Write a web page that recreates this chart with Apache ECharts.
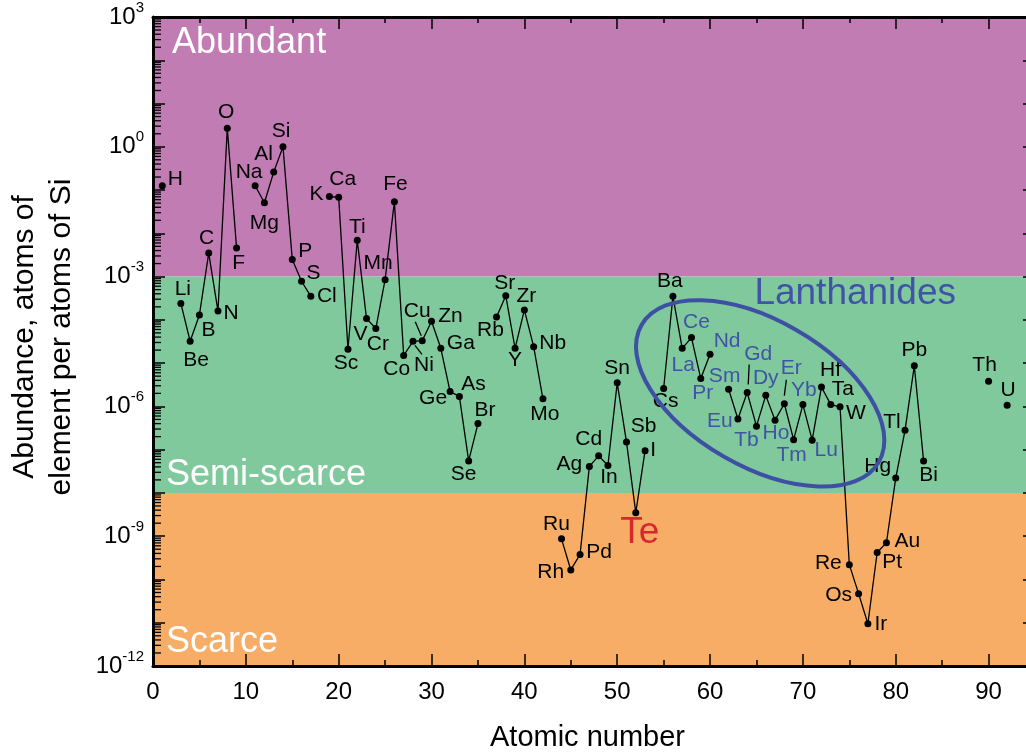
<!DOCTYPE html>
<html>
<head>
<meta charset="utf-8">
<script src="https://cdn.jsdelivr.net/npm/echarts@6/dist/echarts.min.js"></script>
<style>html,body{margin:0;padding:0;background:#fff}#c{width:1026px;height:755px}</style>
</head>
<body>
<div id="c"></div>
<script>
// ---------- data ----------
const symbols = ['H','Li','Be','B','C','N','O','F','Na','Mg','Al','Si','P','S','Cl','K','Ca','Sc','Ti','V','Cr','Mn','Fe','Co','Ni','Cu','Zn','Ga','Ge','As','Se','Br','Rb','Sr','Y','Zr','Nb','Mo','Ru','Rh','Pd','Ag','Cd','In','Sn','Sb','Te','I','Cs','Ba','La','Ce','Pr','Nd','Sm','Eu','Gd','Tb','Dy','Ho','Er','Tm','Yb','Lu','Hf','Ta','W','Re','Os','Ir','Pt','Au','Hg','Tl','Pb','Bi','Th','U'];
const atomicNumbers = [1,3,4,5,6,7,8,9,11,12,13,14,15,16,17,19,20,21,22,23,24,25,26,27,28,29,30,31,32,33,34,35,37,38,39,40,41,42,44,45,46,47,48,49,50,51,52,53,55,56,57,58,59,60,62,63,64,65,66,67,68,69,70,71,72,73,74,75,76,77,78,79,80,81,82,83,90,92];
// abundance, atoms of element per atom of Si
const abundance = [
  1.26e-1, 2.4e-4, 3.2e-5, 1.3e-4, 3.5e-3, 1.6e-4, 2.7, 4.6e-3,
  1.26e-1, 5.1e-2, 2.6e-1, 1.0, 2.5e-3, 7.8e-4, 3.5e-4,
  7.1e-2, 6.8e-2, 2.1e-5, 6.9e-3, 1.07e-4, 6.3e-5, 8.5e-4, 5.4e-2, 1.5e-5, 3.2e-5, 3.3e-5, 9.3e-5, 2.2e-5, 2.2e-6, 1.7e-6, 5.5e-8, 4.0e-7,
  1.17e-4, 3.6e-4, 2.2e-5, 1.7e-4, 2.4e-5, 1.5e-6,
  8.7e-10, 1.66e-10, 3.8e-10, 4.1e-8, 7.2e-8, 4.3e-8, 3.5e-6, 1.5e-7, 3.5e-9, 9.5e-8,
  2.6e-6, 3.5e-4, 2.2e-5, 3.9e-5, 4.4e-6, 1.6e-5,
  2.5e-6, 5.1e-7, 2.1e-6, 3.5e-7, 1.8e-6, 4.8e-7, 1.15e-6, 1.7e-7, 1.1e-6, 1.66e-7,
  2.8e-6, 1.1e-6, 9.8e-7, 2.2e-10, 4.7e-11, 9.5e-12, 4.2e-10, 7.1e-10, 2.2e-8, 2.8e-7, 8.7e-6, 5.5e-8,
  3.8e-6, 1.07e-6
];
const lanthanides = ['La','Ce','Pr','Nd','Sm','Eu','Gd','Tb','Dy','Ho','Er','Tm','Yb','Lu'];
const bands = [
  {name:'Abundant', from:1e-3, to:1e3},
  {name:'Semi-scarce', from:1e-8, to:1e-3},
  {name:'Scarce', from:1e-12, to:1e-8}
];
const lanthanideEllipseCenter = {atomicNumber: 65.4, abundance: 2.0e-6};

// ---------- styling (label offsets relative to the dot, px) ----------
const labelOffset = {
  H:[13,-7], Li:[2,-14], Be:[6,19], B:[9,15], C:[-2,-15], N:[13,2], O:[-1,-16], F:[2,15],
  Na:[-6,-14], Mg:[0,20], Al:[-10,-18], Si:[-2,-16], P:[13,-8], S:[12,-8], Cl:[16,0],
  K:[-13,-2], Ca:[4,-18], Sc:[-2,14], Ti:[0,-13], V:[-6,16], Cr:[2,16], Mn:[-7,-16], Fe:[1,-17],
  Co:[-7,14], Ni:[11,24], Cu:[-5,-29], Zn:[19,-5], Ga:[20,-5], Ge:[-17,7], As:[14,-12], Se:[-5,13], Br:[7,-13],
  Rb:[-6,13], Sr:[-1,-13], Y:[0,12], Zr:[2,-14], Nb:[19,-3], Mo:[2,15],
  Ru:[-5,-15], Rh:[-20,2], Pd:[19,-2], Ag:[-20,-2], Cd:[-10,-17], In:[1,12], Sn:[0,-15], Sb:[17,-16], Te:[4,20], I:[8,0],
  Cs:[2,13], Ba:[-3,-15], La:[1,17], Ce:[5,-15], Pr:[2,15], Nd:[17,-13], Sm:[-4,-13], Eu:[-18,2], Gd:[11,-38],
  Tb:[-10,14], Dy:[0,-17], Ho:[1,13], Er:[7,-36], Tm:[-2,16], Yb:[1,-14], Lu:[14,10],
  Hf:[9,-17], Ta:[12,-15], W:[16,6], Re:[-21,-1], Os:[-20,2], Ir:[13,1], Pt:[15,10], Au:[21,-1],
  Hg:[-18,-12], Tl:[-13,-8], Pb:[0,-16], Bi:[5,14], Th:[-4,-16], U:[1,-15]
};
// leader line ends relative to the dot, px
const leaderLines = {
  Ni: [[2,4],[9,13]],
  Cu: [[-1,-5],[-7,-19]],
  Gd: [[1,-8],[2,-28]],
  Er: [[0,-8],[2,-24]]
};
const BLUE = '#4153A6';
const FONT = '"Liberation Sans", Arial, Helvetica, sans-serif';

// ---------- build series data ----------
const lineData = [];
const offsetsByIndex = [];
for (let i = 0; i < symbols.length; i++) {
  if (i > 0 && atomicNumbers[i] - atomicNumbers[i-1] > 1) {
    // missing elements: break the line
    lineData.push({value: [(atomicNumbers[i] + atomicNumbers[i-1]) / 2, '-'], symbol: 'none', label: {show: false}});
    offsetsByIndex.push(null);
  }
  const s = symbols[i];
  const isTe = s === 'Te';
  const isLan = lanthanides.indexOf(s) >= 0;
  lineData.push({
    value: [atomicNumbers[i], Math.log10(abundance[i])],
    label: {
      show: true,
      formatter: s,
      position: 'inside',
      fontSize: isTe ? 37 : 21,
      fontFamily: FONT,
      color: isTe ? '#D7282F' : (isLan ? BLUE : '#000')
    }
  });
  offsetsByIndex.push(labelOffset[s] || [0, -15]);
}
const leaderData = Object.keys(leaderLines).map(s => {
  const i = symbols.indexOf(s);
  return {name: s, value: [atomicNumbers[i], Math.log10(abundance[i])]};
});

// log tick positions (exponents)
const minorTicks = [];
for (let e = -12; e < 3; e++) {
  for (let k = 2; k <= 9; k++) minorTicks.push(e + Math.log10(k));
}
const decadeTicks = [];
for (let e = -12; e <= 3; e++) decadeTicks.push(e);

const chart = echarts.init(document.getElementById('c'), null, {renderer: 'canvas'});

const axisBase = {z: 10, splitLine: {show: false}};
const X_MIN = 0, X_MAX = 95;

const option = {
  animation: false,
  textStyle: {fontFamily: FONT},
  grid: {left: 153, width: 882, top: 17, height: 649, containLabel: false, outerBoundsMode: 'none'},
  xAxis: [
    Object.assign({}, axisBase, {
      type: 'value', min: X_MIN, max: X_MAX, interval: 10, position: 'bottom',
      name: 'Atomic number', nameLocation: 'middle', nameGap: 57,
      nameTextStyle: {fontSize: 29, color: '#000', fontFamily: FONT, padding: [0, 13, 0, 0]},
      axisLine: {show: true, onZero: false, lineStyle: {color: '#000', width: 3}},
      axisTick: {show: true, inside: true, length: 12, lineStyle: {color: '#000', width: 1.5}},
      minorTick: {show: true, splitNumber: 2, length: 6, lineStyle: {color: '#000', width: 1.5}},
      axisLabel: {fontSize: 24, color: '#000', margin: 14, fontFamily: FONT,
        formatter: v => (v > 90 ? '' : String(v))}
    }),
    Object.assign({}, axisBase, {
      type: 'value', min: X_MIN, max: X_MAX, interval: 10, position: 'top',
      axisLine: {show: true, onZero: false, lineStyle: {color: '#000', width: 3}},
      axisTick: {show: true, inside: true, length: 12, lineStyle: {color: '#000', width: 1.5}},
      minorTick: {show: true, splitNumber: 2, length: 6, lineStyle: {color: '#000', width: 1.5}},
      axisLabel: {show: false}
    })
  ],
  yAxis: [
    Object.assign({}, axisBase, {
      type: 'value', min: -12, max: 3, interval: 3, position: 'left',
      name: 'Abundance, atoms of\nelement per atoms of Si', nameLocation: 'middle', nameRotate: 90, nameGap: 73,
      nameTextStyle: {fontSize: 30, lineHeight: 37, color: '#000', fontFamily: FONT, padding: [0, 0, 0, 9], align: 'center'},
      axisLine: {show: true, onZero: false, lineStyle: {color: '#000', width: 3}},
      axisTick: {show: true, inside: true, length: 12, customValues: decadeTicks, lineStyle: {color: '#000', width: 1.5}},
      axisLabel: {
        margin: 9, color: '#000', fontFamily: FONT, fontSize: 24,
        formatter: v => '{base|10}{sup|' + v + '}',
        rich: {
          base: {fontSize: 24, lineHeight: 34, color: '#000', fontFamily: FONT},
          sup: {fontSize: 15, lineHeight: 15, padding: [0, 0, 12, 0], verticalAlign: 'top', color: '#000', fontFamily: FONT}
        }
      }
    }),
    Object.assign({}, axisBase, {
      type: 'value', min: -12, max: 3, position: 'right',
      axisLine: {show: true, onZero: false, lineStyle: {color: '#000', width: 3}},
      axisTick: {show: true, inside: true, length: 12, customValues: decadeTicks, lineStyle: {color: '#000', width: 1.5}},
      axisLabel: {show: false}
    })
  ],
  series: [
    {
      type: 'line',
      xAxisIndex: 0, yAxisIndex: 0,
      data: lineData,
      connectNulls: false,
      symbol: 'circle', symbolSize: 7,
      itemStyle: {color: '#000'},
      lineStyle: {color: '#000', width: 1.3},
      labelLayout: function (params) {
        const o = offsetsByIndex[params.dataIndex];
        if (!o) return {};
        return {dx: o[0], dy: o[1]};
      },
      z: 5,
      markArea: {
        silent: true,
        data: [
          [{yAxis: Math.log10(bands[0].from), itemStyle: {color: '#C17CB4'},
            label: {show: true, position: 'insideTopLeft', formatter: bands[0].name, color: '#fff', fontSize: 36, fontFamily: FONT, distance: 0, offset: [19, 8]}},
           {yAxis: Math.log10(bands[0].to)}],
          [{yAxis: Math.log10(bands[1].from), itemStyle: {color: '#7FC99C'},
            label: {show: true, position: 'insideBottomLeft', formatter: bands[1].name, color: '#fff', fontSize: 36, fontFamily: FONT, distance: 0, offset: [13, 0]}},
           {yAxis: Math.log10(bands[1].to)}],
          [{yAxis: Math.log10(bands[2].from), itemStyle: {color: '#F8AD66'},
            label: {show: true, position: 'insideBottomLeft', formatter: bands[2].name, color: '#fff', fontSize: 36, fontFamily: FONT, distance: 0, offset: [13, -6]}},
           {yAxis: Math.log10(bands[2].to)}]
        ]
      }
    },
    {
      // lanthanide ellipse, its title, leader lines and logarithmic minor ticks
      type: 'custom',
      xAxisIndex: 0, yAxisIndex: 0,
      silent: true,
      clip: false,
      z: 6,
      data: [[lanthanideEllipseCenter.atomicNumber, Math.log10(lanthanideEllipseCenter.abundance)]],
      renderItem: function (params, api) {
        const c = api.coord([api.value(0), api.value(1)]);
        const children = [
          {type: 'ellipse', x: c[0], y: c[1], rotation: -Math.PI / 6,
           shape: {cx: 0, cy: 0, rx: 137, ry: 73},
           style: {fill: 'none', stroke: '#3E50A4', lineWidth: 4}},
          {type: 'text', x: c[0] + 95, y: c[1] - 100,
           style: {text: 'Lanthanides', fill: BLUE, font: '37px ' + FONT, textAlign: 'center', textVerticalAlign: 'middle'}}
        ];
        leaderData.forEach(d => {
          const p = api.coord(d.value);
          const seg = leaderLines[d.name];
          children.push({type: 'line',
            shape: {x1: p[0] + seg[0][0], y1: p[1] + seg[0][1], x2: p[0] + seg[1][0], y2: p[1] + seg[1][1]},
            style: {stroke: '#000', lineWidth: 1.3}});
        });
        minorTicks.forEach(v => {
          const p = api.coord([X_MIN, v]);
          children.push({type: 'rect',
            shape: {x: p[0], y: p[1] - 0.65, width: 8, height: 1.3},
            style: {fill: '#000'}});
        });
        return {type: 'group', children: children};
      }
    }
  ]
};
chart.setOption(option);
</script>
</body>
</html>
